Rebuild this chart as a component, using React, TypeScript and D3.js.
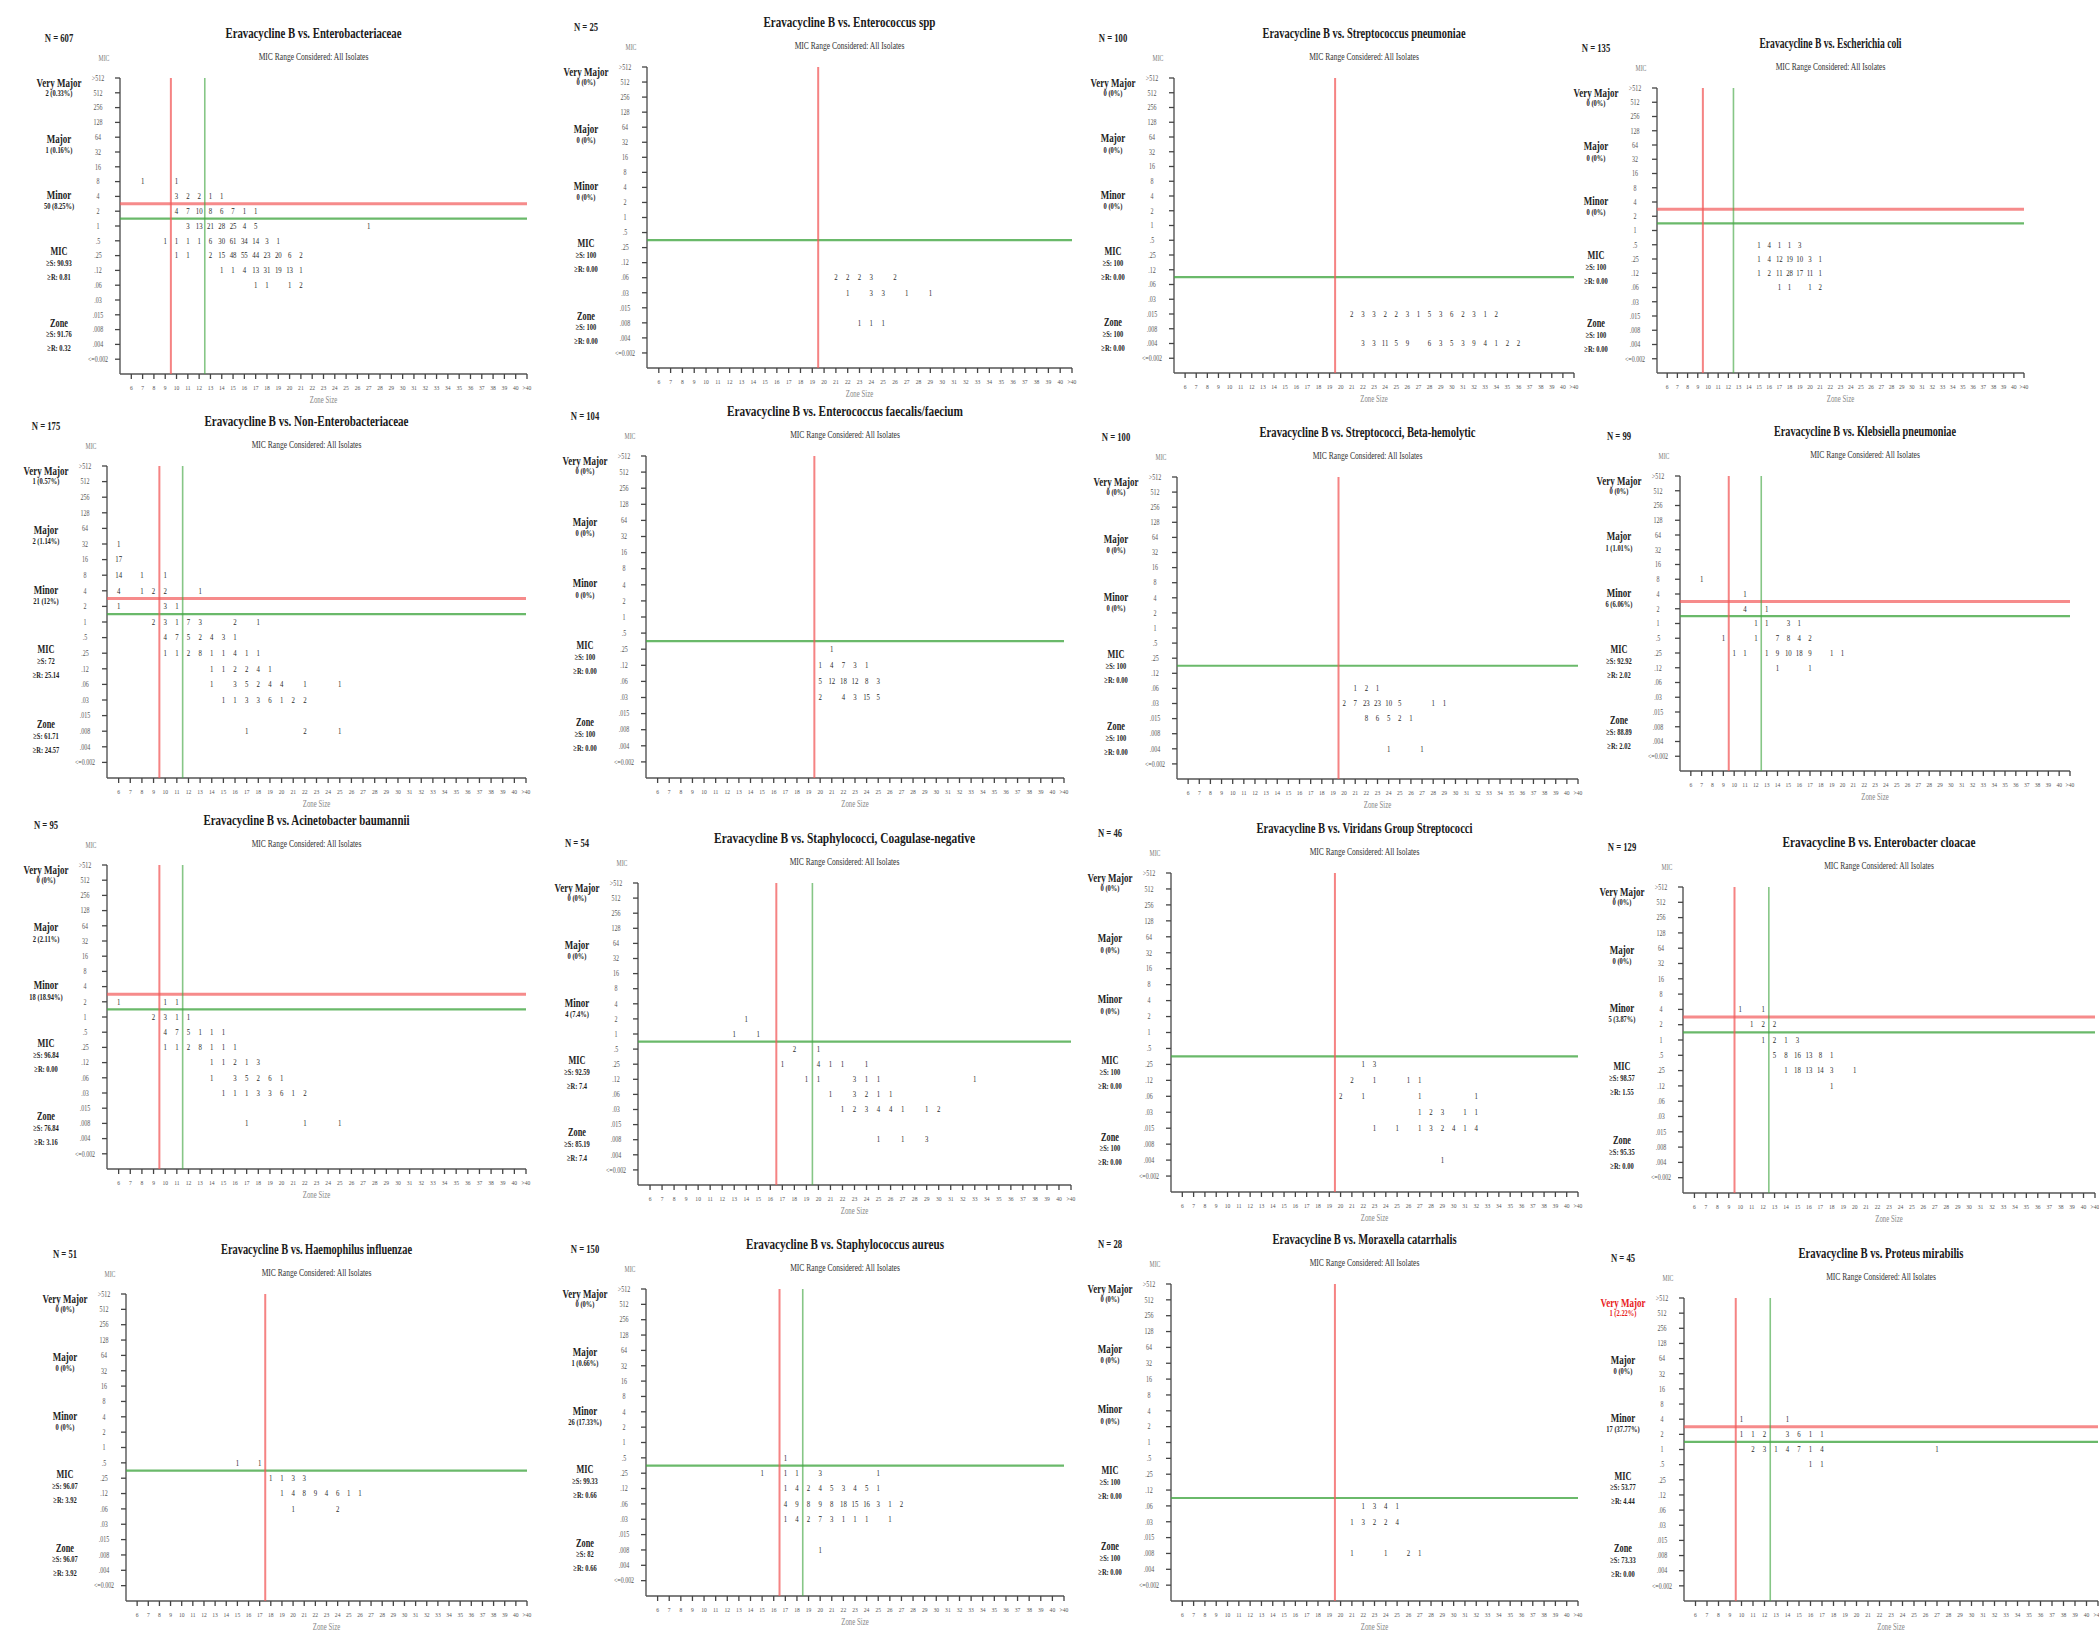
import * as d3 from "d3";

// y categories (top to bottom) and x categories
const micLevels = [">512", "512", "256", "128", "64", "32", "16", "8", "4", "2", "1", ".5", ".25", ".12", ".06", ".03", ".015", ".008", ".004", "<=0.002"];
const zoneLevels = ["6", "7", "8", "9", "10", "11", "12", "13", "14", "15", "16", "17", "18", "19", "20", "21", "22", "23", "24", "25", "26", "27", "28", "29", "30", "31", "32", "33", "34", "35", "36", "37", "38", "39", "40", ">40"];

const organisms = [
  "Enterobacteriaceae", "Enterococcus spp", "Streptococcus pneumoniae", "Escherichia coli",
  "Non-Enterobacteriaceae", "Enterococcus faecalis/faecium", "Streptococci, Beta-hemolytic", "Klebsiella pneumoniae",
  "Acinetobacter baumannii", "Staphylococci, Coagulase-negative", "Viridans Group Streptococci", "Enterobacter cloacae",
  "Haemophilus influenzae", "Staphylococcus aureus", "Moraxella catarrhalis", "Proteus mirabilis",
];
const isolateCounts = [607, 25, 100, 135, 175, 104, 100, 99, 95, 54, 46, 129, 51, 150, 28, 45];

const veryMajorErrors = ["2 (0.33%)", "0 (0%)", "0 (0%)", "0 (0%)", "1 (0.57%)", "0 (0%)", "0 (0%)", "0 (0%)", "0 (0%)", "0 (0%)", "0 (0%)", "0 (0%)", "0 (0%)", "0 (0%)", "0 (0%)", "1 (2.22%)"];
const majorErrors = ["1 (0.16%)", "0 (0%)", "0 (0%)", "0 (0%)", "2 (1.14%)", "0 (0%)", "0 (0%)", "1 (1.01%)", "2 (2.11%)", "0 (0%)", "0 (0%)", "0 (0%)", "0 (0%)", "1 (0.66%)", "0 (0%)", "0 (0%)"];
const minorErrors = ["50 (8.25%)", "0 (0%)", "0 (0%)", "0 (0%)", "21 (12%)", "0 (0%)", "0 (0%)", "6 (6.06%)", "18 (18.94%)", "4 (7.4%)", "0 (0%)", "5 (3.87%)", "0 (0%)", "26 (17.33%)", "0 (0%)", "17 (37.77%)"];
const micSusceptible = ["90.93", "100", "100", "100", "72", "100", "100", "92.92", "96.84", "92.59", "100", "98.57", "96.07", "99.33", "100", "53.77"];
const micResistant = ["0.81", "0.00", "0.00", "0.00", "25.14", "0.00", "0.00", "2.02", "0.00", "7.4", "0.00", "1.55", "3.92", "0.66", "0.00", "4.44"];
const zoneSusceptible = ["91.76", "100", "100", "100", "61.71", "100", "100", "88.89", "76.84", "85.19", "100", "95.35", "96.07", "82", "100", "73.33"];
const zoneResistant = ["0.32", "0.00", "0.00", "0.00", "24.57", "0.00", "0.00", "2.02", "3.16", "7.4", "0.00", "0.00", "3.92", "0.66", "0.00", "0.00"];

// breakpoint lines: zone values, and MIC category just above the horizontal line
const redZoneBreak = [9.5, 19.5, 19.5, 9.5, 9.5, 19.5, 19.5, 9.5, 9.5, 16.5, 19.5, 9.5, 17.5, 16.5, 19.5, 9.5];
const greenZoneBreak = [12.5, null, null, 12.5, 11.5, null, null, 12.5, 11.5, 19.5, null, 12.5, null, 18.5, null, 12.5];
const redMicBreak = ["4", null, null, "4", "4", null, null, "4", "4", null, null, "4", null, null, null, "4"];
const greenMicBreak = ["2", ".5", ".12", "2", "2", ".5", ".25", "2", "2", "1", ".5", "2", ".5", ".5", ".12", "2"];

// [zone, mic, count]
const enterobacteriaceae = [
  [7, "8", 1], [10, "8", 1],
  [10, "4", 3], [11, "4", 2], [12, "4", 2], [13, "4", 1], [14, "4", 1],
  [10, "2", 4], [11, "2", 7], [12, "2", 10], [13, "2", 8], [14, "2", 6], [15, "2", 7], [16, "2", 1], [17, "2", 1],
  [11, "1", 3], [12, "1", 13], [13, "1", 21], [14, "1", 28], [15, "1", 25], [16, "1", 4], [17, "1", 5], [27, "1", 1],
  [9, ".5", 1], [10, ".5", 1], [11, ".5", 1], [12, ".5", 1], [13, ".5", 6], [14, ".5", 30], [15, ".5", 61], [16, ".5", 34], [17, ".5", 14], [18, ".5", 3], [19, ".5", 1],
  [10, ".25", 1], [11, ".25", 1], [13, ".25", 2], [14, ".25", 15], [15, ".25", 48], [16, ".25", 55], [17, ".25", 44], [18, ".25", 23], [19, ".25", 20], [20, ".25", 6], [21, ".25", 2],
  [14, ".12", 1], [15, ".12", 1], [16, ".12", 4], [17, ".12", 13], [18, ".12", 31], [19, ".12", 19], [20, ".12", 13], [21, ".12", 1],
  [17, ".06", 1], [18, ".06", 1], [20, ".06", 1], [21, ".06", 2],
];
const enterococcusSpp = [
  [21, ".06", 2], [22, ".06", 2], [23, ".06", 2], [24, ".06", 3], [26, ".06", 2],
  [22, ".03", 1], [24, ".03", 3], [25, ".03", 3], [27, ".03", 1], [29, ".03", 1],
  [23, ".008", 1], [24, ".008", 1], [25, ".008", 1],
];
const pneumoniae = [
  [21, ".015", 2], [22, ".015", 3], [23, ".015", 3], [24, ".015", 2], [25, ".015", 2], [26, ".015", 3], [27, ".015", 1],
  [28, ".015", 5], [29, ".015", 3], [30, ".015", 6], [31, ".015", 2], [32, ".015", 3], [33, ".015", 1], [34, ".015", 2],
  [22, ".004", 3], [23, ".004", 3], [24, ".004", 11], [25, ".004", 5], [26, ".004", 9], [28, ".004", 6], [29, ".004", 3],
  [30, ".004", 5], [31, ".004", 3], [32, ".004", 9], [33, ".004", 4], [34, ".004", 1], [35, ".004", 2], [36, ".004", 2],
];
const eColi = [
  [15, ".5", 1], [16, ".5", 4], [17, ".5", 1], [18, ".5", 1], [19, ".5", 3],
  [15, ".25", 1], [16, ".25", 4], [17, ".25", 12], [18, ".25", 19], [19, ".25", 10], [20, ".25", 3], [21, ".25", 1],
  [15, ".12", 1], [16, ".12", 2], [17, ".12", 11], [18, ".12", 28], [19, ".12", 17], [20, ".12", 11], [21, ".12", 1],
  [17, ".06", 1], [18, ".06", 1], [20, ".06", 1], [21, ".06", 2],
];
const nonEnterobacteriaceae = [
  [6, "32", 1], [6, "16", 17], [6, "8", 14], [8, "8", 1], [10, "8", 1],
  [6, "4", 4], [8, "4", 1], [9, "4", 2], [10, "4", 2], [13, "4", 1],
  [6, "2", 1], [10, "2", 3], [11, "2", 1],
  [9, "1", 2], [10, "1", 3], [11, "1", 1], [12, "1", 7], [13, "1", 3], [16, "1", 2], [18, "1", 1],
  [10, ".5", 4], [11, ".5", 7], [12, ".5", 5], [13, ".5", 2], [14, ".5", 4], [15, ".5", 3], [16, ".5", 1],
  [10, ".25", 1], [11, ".25", 1], [12, ".25", 2], [13, ".25", 8], [14, ".25", 1], [15, ".25", 1], [16, ".25", 4], [17, ".25", 1], [18, ".25", 1],
  [14, ".12", 1], [15, ".12", 1], [16, ".12", 2], [17, ".12", 2], [18, ".12", 4], [19, ".12", 1],
  [14, ".06", 1], [16, ".06", 3], [17, ".06", 5], [18, ".06", 2], [19, ".06", 4], [20, ".06", 4], [22, ".06", 1], [25, ".06", 1],
  [15, ".03", 1], [16, ".03", 1], [17, ".03", 3], [18, ".03", 3], [19, ".03", 6], [20, ".03", 1], [21, ".03", 2], [22, ".03", 2],
  [17, ".008", 1], [22, ".008", 2], [25, ".008", 1],
];
const faecalisFaecium = [
  [21, ".25", 1],
  [20, ".12", 1], [21, ".12", 4], [22, ".12", 7], [23, ".12", 3], [24, ".12", 1],
  [20, ".06", 5], [21, ".06", 12], [22, ".06", 18], [23, ".06", 12], [24, ".06", 8], [25, ".06", 3],
  [20, ".03", 2], [22, ".03", 4], [23, ".03", 3], [24, ".03", 15], [25, ".03", 5],
];
const betaHemolytic = [
  [21, ".06", 1], [22, ".06", 2], [23, ".06", 1],
  [20, ".03", 2], [21, ".03", 7], [22, ".03", 23], [23, ".03", 23], [24, ".03", 10], [25, ".03", 5], [28, ".03", 1], [29, ".03", 1],
  [22, ".015", 8], [23, ".015", 6], [24, ".015", 5], [25, ".015", 2], [26, ".015", 1],
  [24, ".004", 1], [27, ".004", 1],
];
const klebsiella = [
  [7, "8", 1], [11, "4", 1], [11, "2", 4], [13, "2", 1],
  [12, "1", 1], [13, "1", 1], [15, "1", 3], [16, "1", 1],
  [9, ".5", 1], [12, ".5", 1], [14, ".5", 7], [15, ".5", 8], [16, ".5", 4], [17, ".5", 2],
  [10, ".25", 1], [11, ".25", 1], [13, ".25", 1], [14, ".25", 9], [15, ".25", 10], [16, ".25", 18], [17, ".25", 9], [19, ".25", 1], [20, ".25", 1],
  [14, ".12", 1], [17, ".12", 1],
];
const acinetobacter = [
  [6, "2", 1], [10, "2", 1], [11, "2", 1],
  [9, "1", 2], [10, "1", 3], [11, "1", 1], [12, "1", 1],
  [10, ".5", 4], [11, ".5", 7], [12, ".5", 5], [13, ".5", 1], [14, ".5", 1], [15, ".5", 1],
  [10, ".25", 1], [11, ".25", 1], [12, ".25", 2], [13, ".25", 8], [14, ".25", 1], [15, ".25", 1], [16, ".25", 1],
  [14, ".12", 1], [15, ".12", 1], [16, ".12", 2], [17, ".12", 1], [18, ".12", 3],
  [14, ".06", 1], [16, ".06", 3], [17, ".06", 5], [18, ".06", 2], [19, ".06", 6], [20, ".06", 1],
  [15, ".03", 1], [16, ".03", 1], [17, ".03", 1], [18, ".03", 3], [19, ".03", 3], [20, ".03", 6], [21, ".03", 1], [22, ".03", 2],
  [17, ".008", 1], [22, ".008", 1], [25, ".008", 1],
];
const coagulaseNegative = [
  [14, "2", 1], [13, "1", 1], [15, "1", 1],
  [18, ".5", 2], [20, ".5", 1],
  [17, ".25", 1], [20, ".25", 4], [21, ".25", 1], [22, ".25", 1], [24, ".25", 1],
  [19, ".12", 1], [20, ".12", 1], [23, ".12", 3], [24, ".12", 1], [25, ".12", 1], [33, ".12", 1],
  [21, ".06", 1], [23, ".06", 3], [24, ".06", 2], [25, ".06", 1], [26, ".06", 1],
  [22, ".03", 1], [23, ".03", 2], [24, ".03", 3], [25, ".03", 4], [26, ".03", 4], [27, ".03", 1], [29, ".03", 1], [30, ".03", 2],
  [25, ".008", 1], [27, ".008", 1], [29, ".008", 3],
];
const viridans = [
  [22, ".25", 1], [23, ".25", 3],
  [21, ".12", 2], [23, ".12", 1], [26, ".12", 1], [27, ".12", 1],
  [20, ".06", 2], [22, ".06", 1], [27, ".06", 1], [32, ".06", 1],
  [27, ".03", 1], [28, ".03", 2], [29, ".03", 3], [31, ".03", 1], [32, ".03", 1],
  [23, ".015", 1], [25, ".015", 1], [27, ".015", 1], [28, ".015", 3], [29, ".015", 2], [30, ".015", 4], [31, ".015", 1], [32, ".015", 4],
  [29, ".004", 1],
];
const cloacae = [
  [10, "4", 1], [12, "4", 1],
  [11, "2", 1], [12, "2", 2], [13, "2", 2],
  [12, "1", 1], [13, "1", 2], [14, "1", 1], [15, "1", 3],
  [13, ".5", 5], [14, ".5", 8], [15, ".5", 16], [16, ".5", 13], [17, ".5", 8], [18, ".5", 1],
  [14, ".25", 1], [15, ".25", 18], [16, ".25", 13], [17, ".25", 14], [18, ".25", 3], [20, ".25", 1],
  [18, ".12", 1],
];
const haemophilus = [
  [15, ".5", 1], [17, ".5", 1],
  [18, ".25", 1], [19, ".25", 1], [20, ".25", 3], [21, ".25", 3],
  [19, ".12", 1], [20, ".12", 4], [21, ".12", 8], [22, ".12", 9], [23, ".12", 4], [24, ".12", 6], [25, ".12", 1], [26, ".12", 1],
  [20, ".06", 1], [24, ".06", 2],
];
const aureus = [
  [17, ".5", 1],
  [15, ".25", 1], [17, ".25", 1], [18, ".25", 1], [20, ".25", 3], [25, ".25", 1],
  [17, ".12", 1], [18, ".12", 4], [19, ".12", 2], [20, ".12", 4], [21, ".12", 5], [22, ".12", 3], [23, ".12", 4], [24, ".12", 5], [25, ".12", 1],
  [17, ".06", 4], [18, ".06", 9], [19, ".06", 8], [20, ".06", 9], [21, ".06", 8], [22, ".06", 18], [23, ".06", 15], [24, ".06", 16], [25, ".06", 3], [26, ".06", 1], [27, ".06", 2],
  [17, ".03", 1], [18, ".03", 4], [19, ".03", 2], [20, ".03", 7], [21, ".03", 3], [22, ".03", 1], [23, ".03", 1], [24, ".03", 1], [26, ".03", 1],
  [20, ".008", 1],
];
const moraxella = [
  [22, ".06", 1], [23, ".06", 3], [24, ".06", 4], [25, ".06", 1],
  [21, ".03", 1], [22, ".03", 3], [23, ".03", 2], [24, ".03", 2], [25, ".03", 4],
  [21, ".008", 1], [24, ".008", 1], [26, ".008", 2], [27, ".008", 1],
];
const proteus = [
  [10, "4", 1], [14, "4", 1],
  [10, "2", 1], [11, "2", 1], [12, "2", 2], [14, "2", 3], [15, "2", 6], [16, "2", 1], [17, "2", 1],
  [11, "1", 2], [12, "1", 3], [13, "1", 1], [14, "1", 4], [15, "1", 7], [16, "1", 1], [17, "1", 4], [27, "1", 1],
  [16, ".5", 1], [17, ".5", 1],
];

const panelCells = [
  enterobacteriaceae, enterococcusSpp, pneumoniae, eColi,
  nonEnterobacteriaceae, faecalisFaecium, betaHemolytic, klebsiella,
  acinetobacter, coagulaseNegative, viridans, cloacae,
  haemophilus, aureus, moraxella, proteus,
];

// layout: axis frame [left, top, right, bottom] of each pasted panel
const panelBoxes = [
  [120, 78, 527, 374], [647, 67, 1072, 368], [1174, 78, 1574, 373], [1657, 88, 2024, 373],
  [107, 466, 526, 778], [646, 456, 1064, 778], [1177, 477, 1578, 779], [1680, 476, 2070, 771],
  [107, 865, 526, 1169], [638, 883, 1071, 1185], [1171, 873, 1578, 1192], [1683, 887, 2095, 1193],
  [126, 1294, 527, 1601], [646, 1289, 1064, 1596], [1171, 1284, 1578, 1601], [1684, 1298, 2098, 1601],
];
const titleWidths = [176, 172, 203, 142, 204, 236, 216, 182, 206, 261, 216, 193, 191, 198, 184, 165];

const RED = "#f25a5a";
const GREEN = "#45a845";
const SX = 0.72;

function SqText({ x, y, size, weight = "normal", fill = "#222", sx = SX, children }) {
  return (
    <text
      transform={`translate(${x},${y}) scale(${sx},1)`}
      fontSize={size}
      fontWeight={weight}
      fill={fill}
      textAnchor="middle"
      dominantBaseline="central"
    >
      {children}
    </text>
  );
}

function Panel({ i }) {
  const [l, t, r, b] = panelBoxes[i];
  const h = b - t;
  const x = d3.scaleLinear().domain([5, 41]).range([l, r]);
  const yIdx = d3.scaleLinear().domain([0, 20]).range([t, b]);
  const y = (mic) => yIdx(micLevels.indexOf(mic));
  const zoneNum = (lab) => (lab === ">40" ? 41 : +lab);
  const cx = l - 61;
  const mid = (l + r) / 2;
  const vmColor = i === 15 ? "#e82020" : "#222";

  const redH = redMicBreak[i];
  const greenH = greenMicBreak[i];
  const greenV = greenZoneBreak[i];

  return (
    <g>
      <SqText x={cx} y={t - 40} size={12} weight="bold">{`N = ${isolateCounts[i]}`}</SqText>
      <text
        x={mid - 10}
        y={t - 45}
        fontSize={14}
        fontWeight="bold"
        fill="#1a1a1a"
        textAnchor="middle"
        dominantBaseline="central"
        textLength={titleWidths[i]}
        lengthAdjust="spacingAndGlyphs"
      >
        {`Eravacycline B vs. ${organisms[i]}`}
      </text>
      <SqText x={mid - 10} y={t - 21} size={10.5} fill="#333">MIC Range Considered: All Isolates</SqText>
      <SqText x={l - 16} y={t - 19} size={8} fill="#777">MIC</SqText>

      {/* error and agreement summary */}
      <SqText x={cx} y={t + 0.014 * h} size={12.5} weight="bold" fill={vmColor}>Very Major</SqText>
      <SqText x={cx} y={t + 0.014 * h + 11} size={9} weight="bold" fill={vmColor}>{veryMajorErrors[i]}</SqText>
      <SqText x={cx} y={t + 0.203 * h} size={12.5} weight="bold">Major</SqText>
      <SqText x={cx} y={t + 0.203 * h + 12} size={9} weight="bold">{majorErrors[i]}</SqText>
      <SqText x={cx} y={t + 0.394 * h} size={12.5} weight="bold">Minor</SqText>
      <SqText x={cx} y={t + 0.394 * h + 12} size={9} weight="bold">{minorErrors[i]}</SqText>
      <SqText x={cx} y={t + 0.586 * h} size={11.5} weight="bold">MIC</SqText>
      <SqText x={cx} y={t + 0.586 * h + 12} size={9} weight="bold">{`≥S: ${micSusceptible[i]}`}</SqText>
      <SqText x={cx} y={t + 0.586 * h + 26} size={9} weight="bold">{`≥R: ${micResistant[i]}`}</SqText>
      <SqText x={cx} y={t + 0.826 * h} size={11.5} weight="bold">Zone</SqText>
      <SqText x={cx} y={t + 0.826 * h + 12} size={9} weight="bold">{`≥S: ${zoneSusceptible[i]}`}</SqText>
      <SqText x={cx} y={t + 0.826 * h + 26} size={9} weight="bold">{`≥R: ${zoneResistant[i]}`}</SqText>

      {/* axes */}
      <line x1={l} x2={l} y1={t} y2={b} stroke="#555" strokeWidth={1.4} />
      <line x1={l} x2={r} y1={b} y2={b} stroke="#555" strokeWidth={1.4} />
      {micLevels.map((m) => (
        <g key={m}>
          <line x1={l - 5} x2={l} y1={y(m)} y2={y(m)} stroke="#444" strokeWidth={1.3} />
          <SqText x={l - 22} y={y(m)} size={7.5} fill="#555" sx={0.8}>{m}</SqText>
        </g>
      ))}
      {zoneLevels.map((z) => (
        <g key={z}>
          <line x1={x(zoneNum(z))} x2={x(zoneNum(z))} y1={b} y2={b + 5} stroke="#444" strokeWidth={1.3} />
          <SqText x={x(zoneNum(z))} y={b + 13} size={7} fill="#555" sx={0.8}>{z}</SqText>
        </g>
      ))}
      <SqText x={mid} y={b + 26} size={9.5} fill="#888">Zone Size</SqText>

      {/* breakpoints */}
      {redH && (
        <line x1={l} x2={r} y1={yIdx(micLevels.indexOf(redH) + 0.5)} y2={yIdx(micLevels.indexOf(redH) + 0.5)} stroke={RED} strokeOpacity={0.7} strokeWidth={3} />
      )}
      <line x1={l} x2={r} y1={yIdx(micLevels.indexOf(greenH) + 0.5)} y2={yIdx(micLevels.indexOf(greenH) + 0.5)} stroke={GREEN} strokeOpacity={0.8} strokeWidth={2.2} />
      <line x1={x(redZoneBreak[i])} x2={x(redZoneBreak[i])} y1={t} y2={b} stroke={RED} strokeOpacity={0.75} strokeWidth={2} />
      {greenV != null && (
        <line x1={x(greenV)} x2={x(greenV)} y1={t} y2={b} stroke={GREEN} strokeOpacity={0.65} strokeWidth={1.6} />
      )}

      {/* counts */}
      {panelCells[i].map(([zone, mic, n]) => (
        <SqText key={`${zone}-${mic}`} x={x(zone)} y={y(mic)} size={8.5} fill="#2a2a2a" sx={0.8}>
          {n}
        </SqText>
      ))}
    </g>
  );
}

export default function App() {
  return (
    <svg
      width={2099}
      height={1630}
      style={{ position: "absolute", left: 0, top: 0, background: "#fff" }}
      fontFamily="'Liberation Serif', 'Times New Roman', serif"
    >
      <rect width={2099} height={1630} fill="#fff" />
      {organisms.map((_, i) => (
        <Panel key={i} i={i} />
      ))}
    </svg>
  );
}
